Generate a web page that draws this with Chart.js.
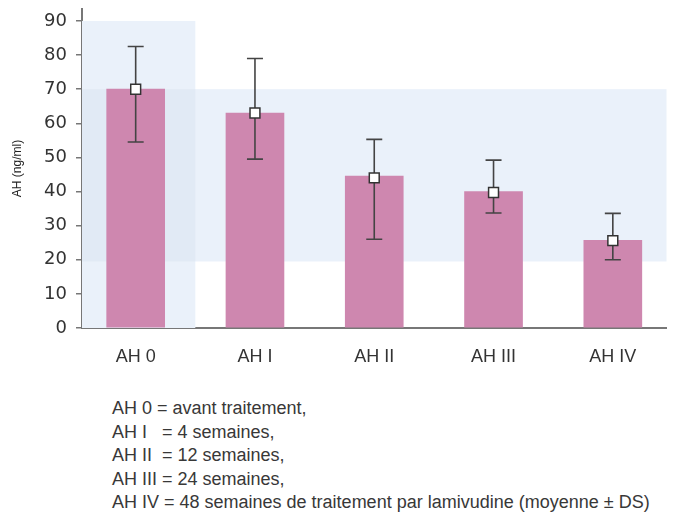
<!DOCTYPE html>
<html><head><meta charset="utf-8">
<script src="https://cdn.jsdelivr.net/npm/chart.js@4"></script>
<style>
html,body{margin:0;padding:0;background:#fff;width:675px;height:513px;overflow:hidden}
#wrap{position:absolute;left:0;top:0;width:675px;height:380px}
#notes{position:absolute;left:112px;top:397px;font-family:"Liberation Sans",Arial,sans-serif;font-size:18px;line-height:23.5px;color:#383838;white-space:pre}
</style></head><body>
<div id="wrap"><canvas id="c" width="675" height="380"></canvas></div>
<div id="notes"></div>
<script>
const categories = ["AH 0", "AH I", "AH II", "AH III", "AH IV"];
const barValues = [70, 63, 44.5, 40, 25.7];
const meanValues = [70, 63, 44, 39.7, 25.6];
const lowValues = [54.5, 49.5, 26, 33.7, 20];
const highValues = [82.5, 79, 55.3, 49.2, 33.6];
const yTicks = [0, 10, 20, 30, 40, 50, 60, 70, 80, 90];
const normalBand = [19.5, 70];
const firstColumnTop = 90;
const yTitle = "AH (ng/ml)";
const notes = [
  "AH 0 = avant traitement,",
  "AH I   = 4 semaines,",
  "AH II  = 12 semaines,",
  "AH III = 24 semaines,",
  "AH IV = 48 semaines de traitement par lamivudine (moyenne \u00b1 DS)"
];
document.getElementById('notes').textContent = notes.join('\n');

const bgPlugin = {
  id: 'bg',
  beforeDatasetsDraw(chart) {
    const {ctx, scales: {x, y}} = chart;
    const xl = x.getPixelForValue(x.min), xr = x.getPixelForValue(x.max);
    const xc = x.getPixelForValue(0.5);
    const yb = y.getPixelForValue(normalBand[0]), yt = y.getPixelForValue(normalBand[1]);
    const y0 = y.getPixelForValue(0), y90 = y.getPixelForValue(firstColumnTop);
    ctx.save();
    ctx.fillStyle = '#eaf1fa';
    ctx.fillRect(xl, y90, xc - xl, y0 - y90);
    ctx.fillRect(xl, yt, xr - xl, yb - yt);
    ctx.fillStyle = '#e1eaf5';
    ctx.fillRect(xl, yt, xc - xl, yb - yt);
    ctx.restore();
  }
};
const errPlugin = {
  id: 'err',
  afterDatasetDraw(chart, args) {
    if (args.index !== 0) return;
    const {ctx, scales: {x, y}} = chart;
    ctx.save();
    ctx.strokeStyle = '#444';
    ctx.lineWidth = 1.6;
    for (let i = 0; i < categories.length; i++) {
      const px = x.getPixelForValue(i);
      const pl = y.getPixelForValue(lowValues[i]), ph = y.getPixelForValue(highValues[i]);
      ctx.beginPath();
      ctx.moveTo(px, pl); ctx.lineTo(px, ph);
      ctx.moveTo(px - 8, ph); ctx.lineTo(px + 8, ph);
      ctx.moveTo(px - 8, pl); ctx.lineTo(px + 8, pl);
      ctx.stroke();
    }
    ctx.restore();
  }
};

new Chart(document.getElementById('c'), {
  type: 'bar',
  data: {
    datasets: [
      {
        type: 'bar',
        data: barValues.map((v, i) => ({x: i, y: v})),
        backgroundColor: '#ce87af',
        barThickness: 58,
        order: 2
      },
      {
        type: 'line',
        data: meanValues.map((v, i) => ({x: i, y: v})),
        showLine: false,
        pointStyle: 'rect',
        pointRadius: 7,
        pointBackgroundColor: '#fff',
        pointBorderColor: '#333',
        pointBorderWidth: 1.5,
        order: 1
      }
    ]
  },
  options: {
    responsive: false,
    animation: false,
    devicePixelRatio: 1,
    layout: {padding: {top: 9, right: 8, left: 0, bottom: 0}},
    plugins: {legend: {display: false}, tooltip: {enabled: false}},
    scales: {
      x: {
        type: 'linear',
        offset: false,
        min: -0.45, max: 4.45,
        afterBuildTicks(s) { s.ticks = categories.map((c, i) => ({value: i})); },
        afterFit(s) { s.height = 52; s.paddingLeft = 0; s.paddingRight = 0; },
        grid: {display: false, offset: false},
        border: {display: true, color: '#777', width: 2},
        ticks: {
          callback: (v) => categories[v],
          color: '#333', padding: 10,
          font: {family: '"Liberation Sans", Arial, sans-serif', size: 18}
        }
      },
      y: {
        type: 'linear',
        min: 0, max: 93.5,
        afterBuildTicks(s) { s.ticks = yTicks.map(v => ({value: v})); },
        afterFit(s) { s.width = 82; s.paddingTop = 0; s.paddingBottom = 0; },
        grid: {display: true, drawOnChartArea: false, drawTicks: true, tickLength: 6, color: '#777', lineWidth: 1.5},
        border: {display: true, color: '#777', width: 2},
        ticks: {
          color: '#333', padding: 9,
          font: {family: '"DejaVu Sans", sans-serif', size: 18}
        },
        title: {
          display: true, text: yTitle, color: '#222',
          font: {family: '"Liberation Sans", Arial, sans-serif', size: 12},
          padding: {top: 10, bottom: 0}
        }
      }
    }
  },
  plugins: [bgPlugin, errPlugin]
});
</script>
</body></html>
